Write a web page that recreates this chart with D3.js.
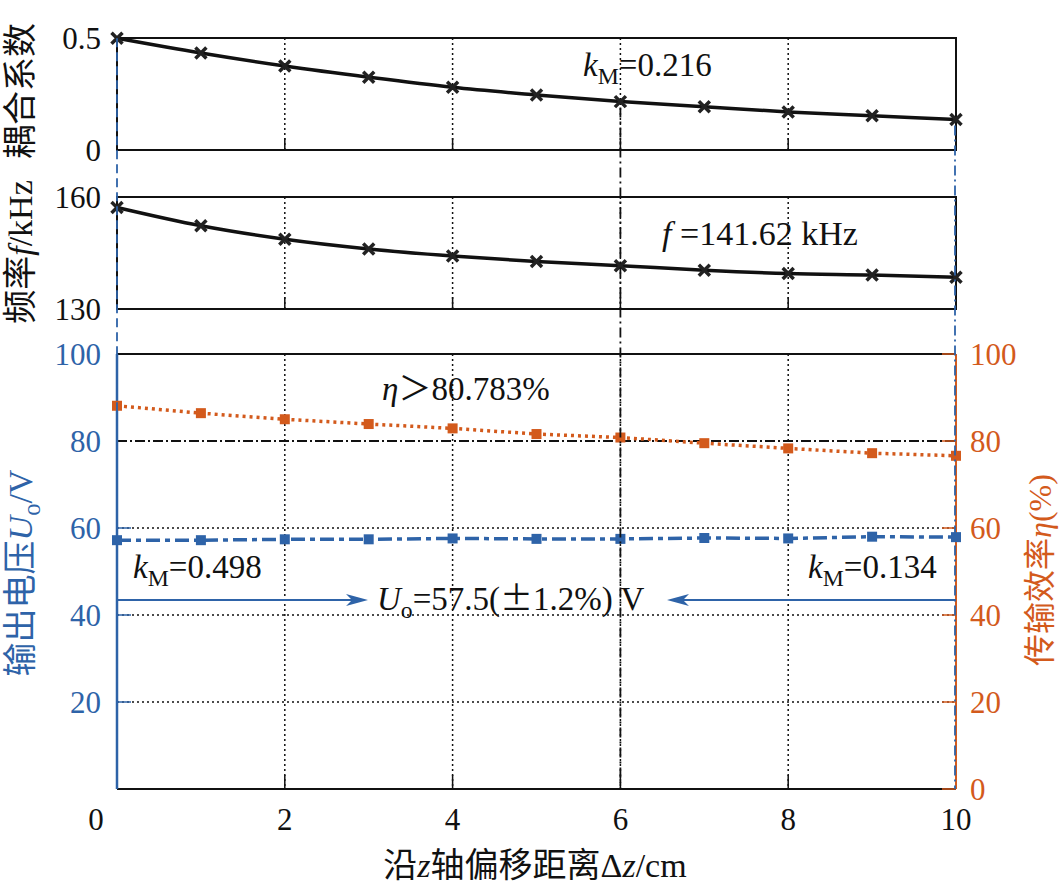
<!DOCTYPE html>
<html>
<head>
<meta charset="utf-8">
<script src="https://cdn.jsdelivr.net/npm/d3@7"></script>
<style>
    html, body { margin: 0; padding: 0; background: #fff; }
    svg text { font-family: "Liberation Serif", "Times New Roman", "Noto Sans CJK SC", serif; }
</style>
</head>
<body>
<div id="chart"></div>
<script>
// 数据：沿 z 轴偏移距离 (cm)
const dz = [0, 1, 2, 3, 4, 5, 6, 7, 8, 9, 10];
// 耦合系数
const kM = [0.499, 0.433, 0.375, 0.325, 0.280, 0.246, 0.216, 0.193, 0.170, 0.153, 0.136];
// 频率 f (kHz)
const freq = [157.2, 152.3, 148.7, 146.1, 144.2, 142.7, 141.6, 140.4, 139.5, 139.1, 138.5];
// 传输效率 η (%)
const eta = [88.1, 86.4, 85.0, 83.9, 82.9, 81.6, 80.8, 79.5, 78.3, 77.2, 76.6];
// 输出电压 Uo (V)
const Uo = [57.2, 57.2, 57.4, 57.4, 57.6, 57.5, 57.5, 57.7, 57.6, 58.0, 57.9];

// 刻度
const xTicks = [0, 2, 4, 6, 8, 10];
const kTicks = [0, 0.5];
const fTicks = [130, 160];
const uTicks = [20, 40, 60, 80, 100];
const etaTicks = [0, 20, 40, 60, 80, 100];

const Chart = (function() {
    'use strict';

    const W = 1059, H = 895;
    const BLUE = '#2e63a8';
    const ORANGE = '#d35a1c';
    const FS = 31;      // 刻度字号
    const FA = 33;      // 注释字号
    const FT = 34;      // 轴标题字号

    const svg = d3.select('#chart').append('svg')
        .attr('width', W).attr('height', H);

    // 比例尺
    const x = d3.scaleLinear().domain([0, 10]).range([117, 956]);
    const yK = d3.scaleLinear().domain([0, 0.5]).range([150, 38]);
    const yF = d3.scaleLinear().domain([130, 160]).range([309, 197]);
    const yB = d3.scaleLinear().domain([0, 100]).range([789, 354]);

    const gridX = [2, 4, 6, 8];

    /**
     * 带下标的文字
     */
    function richText(g, px, py, parts, opts = {}) {
        const size = opts.size || FA;
        const t = g.append('text')
            .attr('x', px).attr('y', py)
            .attr('font-size', size)
            .attr('fill', opts.fill || '#111')
            .attr('text-anchor', opts.anchor || 'start');
        parts.forEach(p => {
            const s = t.append('tspan').text(p.t);
            if (p.i) s.attr('font-style', 'italic');
            if (p.cjk) s.attr('font-family', '"Noto Sans CJK SC", sans-serif');
            if (p.sub) s.attr('font-size', size * 0.72).attr('dy', 8);
            if (p.up) s.attr('dy', -8);
        });
        if (opts.rotate) t.attr('transform', `rotate(-90,${px},${py})`);
        return t;
    }

    /**
     * 上面两个小面板（耦合系数、频率）
     */
    function smallPanel(yScale, values, ticks, fmt) {
        const g = svg.append('g');
        const [y0, y1] = yScale.range();

        // 网格
        g.selectAll('.grid').data(gridX).join('line')
            .attr('x1', d => x(d)).attr('x2', d => x(d))
            .attr('y1', y1).attr('y2', y0)
            .attr('stroke', '#111').attr('stroke-width', 1.5)
            .attr('stroke-dasharray', '2,3');

        // 底部刻度
        g.selectAll('.tk').data(gridX).join('line')
            .attr('x1', d => x(d)).attr('x2', d => x(d))
            .attr('y1', y0).attr('y2', y0 - 12)
            .attr('stroke', '#111').attr('stroke-width', 1.5);

        // 边框
        g.append('rect')
            .attr('x', x(0)).attr('y', y1)
            .attr('width', x(10) - x(0)).attr('height', y0 - y1)
            .attr('fill', 'none').attr('stroke', '#111').attr('stroke-width', 2);

        // y 轴标签
        g.selectAll('.yl').data(ticks).join('text')
            .attr('x', 101).attr('y', d => yScale(d))
            .attr('dy', '0.35em').attr('text-anchor', 'end')
            .attr('font-size', FS).attr('fill', '#111')
            .text(fmt);

        // 曲线
        const line = d3.line()
            .x((d, i) => x(dz[i])).y(d => yScale(d))
            .curve(d3.curveMonotoneX);
        g.append('path').datum(values)
            .attr('d', line).attr('fill', 'none')
            .attr('stroke', '#111').attr('stroke-width', 3.5);

        // × 标记
        const s = 5.5;
        g.selectAll('.mk').data(values).join('path')
            .attr('d', (d, i) => {
                const cx = x(dz[i]), cy = yScale(d);
                return `M${cx - s},${cy - s}L${cx + s},${cy + s}M${cx - s},${cy + s}L${cx + s},${cy - s}`;
            })
            .attr('stroke', '#222').attr('stroke-width', 3.5);
        return g;
    }

    /**
     * 下面的大面板（输出电压、效率）
     */
    function bigPanel() {
        const g = svg.append('g');
        const [y0, y1] = yB.range();

        // 网格
        g.selectAll('.gx').data(gridX).join('line')
            .attr('x1', d => x(d)).attr('x2', d => x(d))
            .attr('y1', y1).attr('y2', y0)
            .attr('stroke', '#111').attr('stroke-width', 1.5)
            .attr('stroke-dasharray', '2,3');
        g.selectAll('.gy').data([20, 40, 60]).join('line')
            .attr('x1', x(0)).attr('x2', x(10))
            .attr('y1', d => yB(d)).attr('y2', d => yB(d))
            .attr('stroke', '#111').attr('stroke-width', 1.5)
            .attr('stroke-dasharray', '2,3');

        // 80% 参考线
        g.append('line')
            .attr('x1', x(0)).attr('x2', x(10))
            .attr('y1', yB(80)).attr('y2', yB(80))
            .attr('stroke', '#111').attr('stroke-width', 1.8)
            .attr('stroke-dasharray', '10,3,2,3');

        // 底部刻度
        g.selectAll('.tk').data(gridX).join('line')
            .attr('x1', d => x(d)).attr('x2', d => x(d))
            .attr('y1', y0).attr('y2', y0 - 14)
            .attr('stroke', '#111').attr('stroke-width', 1.5);

        // 上下边框
        g.append('line').attr('x1', x(0)).attr('x2', x(10))
            .attr('y1', y1).attr('y2', y1)
            .attr('stroke', '#111').attr('stroke-width', 2);
        g.append('line').attr('x1', x(0)).attr('x2', x(10))
            .attr('y1', y0).attr('y2', y0)
            .attr('stroke', '#111').attr('stroke-width', 2);

        // 左轴（蓝）
        g.append('line').attr('x1', x(0)).attr('x2', x(0))
            .attr('y1', y1).attr('y2', y0)
            .attr('stroke', BLUE).attr('stroke-width', 2.5);
        g.selectAll('.lt').data([20, 40, 60]).join('line')
            .attr('x1', x(0)).attr('x2', x(0) + 14)
            .attr('y1', d => yB(d)).attr('y2', d => yB(d))
            .attr('stroke', BLUE).attr('stroke-width', 1.5);
        g.selectAll('.ll').data(uTicks).join('text')
            .attr('x', 101).attr('y', d => yB(d))
            .attr('dy', '0.35em').attr('text-anchor', 'end')
            .attr('font-size', FS).attr('fill', BLUE)
            .text(d => d);

        // 右轴（橙）
        g.append('line').attr('x1', x(10)).attr('x2', x(10))
            .attr('y1', y1).attr('y2', y0)
            .attr('stroke', ORANGE).attr('stroke-width', 2);
        g.selectAll('.rt').data(etaTicks).join('line')
            .attr('x1', x(10)).attr('x2', x(10) - 14)
            .attr('y1', d => yB(d)).attr('y2', d => yB(d))
            .attr('stroke', ORANGE).attr('stroke-width', 1.5);
        g.selectAll('.rl').data(etaTicks).join('text')
            .attr('x', 970).attr('y', d => yB(d))
            .attr('dy', '0.35em').attr('text-anchor', 'start')
            .attr('font-size', FS).attr('fill', ORANGE)
            .text(d => d);

        // 效率曲线
        const line = d3.line().x((d, i) => x(dz[i])).y(d => yB(d));
        g.append('path').datum(eta)
            .attr('d', line).attr('fill', 'none')
            .attr('stroke', ORANGE).attr('stroke-width', 3.5)
            .attr('stroke-dasharray', '3,4');
        g.selectAll('.me').data(eta).join('rect')
            .attr('x', (d, i) => x(dz[i]) - 5).attr('y', d => yB(d) - 5)
            .attr('width', 10).attr('height', 10)
            .attr('fill', ORANGE);

        // 电压曲线
        g.append('path').datum(Uo)
            .attr('d', line).attr('fill', 'none')
            .attr('stroke', BLUE).attr('stroke-width', 3.5)
            .attr('stroke-dasharray', '14,5,5,5');
        g.selectAll('.mu').data(Uo).join('rect')
            .attr('x', (d, i) => x(dz[i]) - 5).attr('y', d => yB(d) - 5)
            .attr('width', 10).attr('height', 10)
            .attr('fill', BLUE);
        return g;
    }

    /**
     * 贯穿三面板的竖线
     */
    function drawGuides() {
        const g = svg.append('g');
        g.append('line')
            .attr('x1', x(0)).attr('x2', x(0))
            .attr('y1', yK(kM[0])).attr('y2', yB(0))
            .attr('stroke', BLUE).attr('stroke-width', 1.8)
            .attr('stroke-dasharray', '9,5');
        g.append('line')
            .attr('x1', x(10) - 1).attr('x2', x(10) - 1)
            .attr('y1', yK(kM[10]) + 6).attr('y2', yB(0))
            .attr('stroke', BLUE).attr('stroke-width', 1.8)
            .attr('stroke-dasharray', '10,4,2,4');
        g.append('line')
            .attr('x1', x(6)).attr('x2', x(6))
            .attr('y1', yK(kM[6]) + 6).attr('y2', yB(0))
            .attr('stroke', '#111').attr('stroke-width', 1.8)
            .attr('stroke-dasharray', '10,4,2,4');
    }

    /**
     * 注释与箭头
     */
    function drawAnnotations() {
        const g = svg.append('g');
        richText(g, 583, 76, [{ t: 'k', i: true }, { t: 'M', sub: true }, { t: '=0.216', up: true }]);
        richText(g, 662, 245, [{ t: 'f', i: true }, { t: ' =141.62 kHz' }], { size: 34 });
        richText(g, 382, 400, [{ t: 'η', i: true }, { t: '＞', cjk: true }, { t: '80.783%' }]);
        richText(g, 133, 578, [{ t: 'k', i: true }, { t: 'M', sub: true }, { t: '=0.498', up: true }]);
        richText(g, 808, 578, [{ t: 'k', i: true }, { t: 'M', sub: true }, { t: '=0.134', up: true }]);
        richText(g, 377, 610, [{ t: 'U', i: true }, { t: 'o', sub: true }, { t: '=57.5(', up: true },
            { t: '±', cjk: true }, { t: '1.2%) V' }]);

        // 箭头
        const ay = 600;
        const arrow = (xa, xb) => {
            const dir = Math.sign(xb - xa);
            g.append('line')
                .attr('x1', xa).attr('x2', xb - dir * 10)
                .attr('y1', ay).attr('y2', ay)
                .attr('stroke', BLUE).attr('stroke-width', 1.8);
            g.append('path')
                .attr('d', `M${xb},${ay}L${xb - dir * 22},${ay - 6}L${xb - dir * 16},${ay}L${xb - dir * 22},${ay + 6}Z`)
                .attr('fill', BLUE);
        };
        arrow(x(0), 368);
        arrow(x(10), 667);
    }

    /**
     * 坐标轴标题和 x 刻度
     */
    function drawTitles() {
        const g = svg.append('g');
        g.selectAll('.xl').data(xTicks).join('text')
            .attr('x', d => d === 0 ? 96 : x(d))
            .attr('y', 830)
            .attr('text-anchor', 'middle')
            .attr('font-size', FS).attr('fill', '#111')
            .text(d => d);

        richText(g, 535, 877, [{ t: '沿' }, { t: 'z', i: true }, { t: '轴偏移距离Δ' }, { t: 'z', i: true }, { t: '/cm' }],
            { anchor: 'middle', size: FT });

        richText(g, 32, 91, [{ t: '耦合系数' }], { anchor: 'middle', rotate: true, size: FT });
        richText(g, 32, 252, [{ t: '频率' }, { t: 'f', i: true }, { t: '/kHz' }], { anchor: 'middle', rotate: true, size: FT });
        richText(g, 32, 573, [{ t: '输出电压' }, { t: 'U', i: true }, { t: 'o', sub: true }, { t: '/V', up: true }],
            { anchor: 'middle', rotate: true, size: FT, fill: BLUE });
        richText(g, 1051, 570, [{ t: '传输效率' }, { t: 'η', i: true }, { t: '(%)' }],
            { anchor: 'middle', rotate: true, size: 32, fill: ORANGE });
    }

    function init() {
        smallPanel(yK, kM, kTicks, d => d === 0 ? '0' : d);
        smallPanel(yF, freq, fTicks, d => d);
        bigPanel();
        drawGuides();
        drawAnnotations();
        drawTitles();
    }

    return { init };
})();

Chart.init();
</script>
</body>
</html>
